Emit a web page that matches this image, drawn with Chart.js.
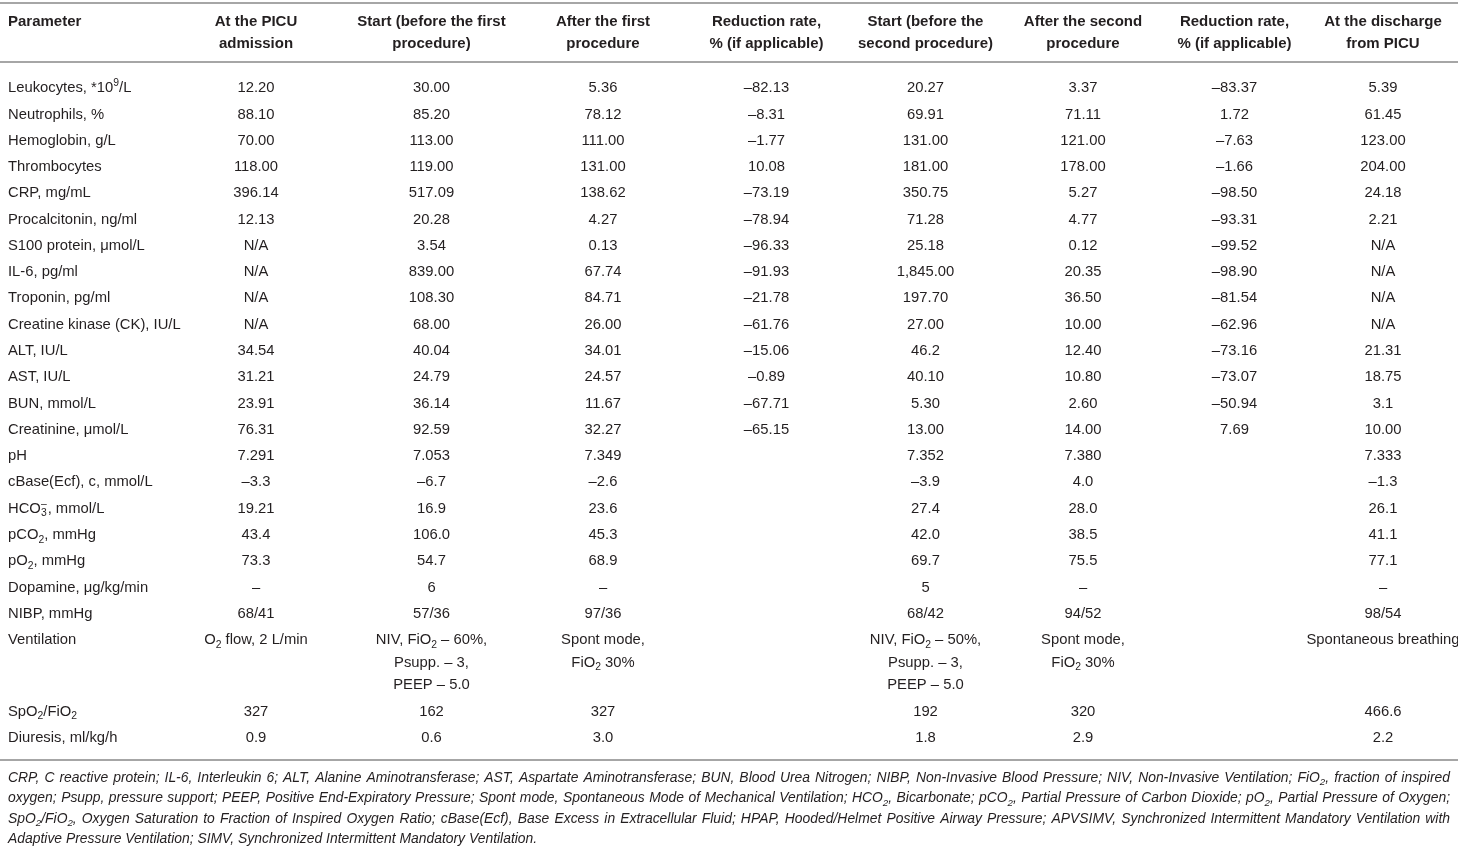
<!DOCTYPE html>
<html>
<head>
<meta charset="utf-8">
<script src="https://cdn.jsdelivr.net/npm/chart.js@4.4.1/dist/chart.umd.min.js"></script>
<style>
  html, body { margin: 0; padding: 0; background: #fff; }
  #wrap { width: 1458px; height: 846px; }
</style>
</head>
<body>
<div id="wrap"><canvas id="table"></canvas></div>
<script>
// Table content. _{x} = subscript, ^{x} = superscript, ~{sub}{sup} = stacked
const headers = ['Parameter', 'At the PICU\nadmission', 'Start (before the first\nprocedure)', 'After the first\nprocedure',
  'Reduction rate,\n% (if applicable)', 'Start (before the\nsecond procedure)', 'After the second\nprocedure',
  'Reduction rate,\n% (if applicable)', 'At the discharge\nfrom PICU'];

const parameters = ['Leukocytes, *10^{9}/L', 'Neutrophils, %', 'Hemoglobin, g/L', 'Thrombocytes', 'CRP, mg/mL',
  'Procalcitonin, ng/ml', 'S100 protein, μmol/L', 'IL-6, pg/ml', 'Troponin, pg/ml', 'Creatine kinase (CK), IU/L',
  'ALT, IU/L', 'AST, IU/L', 'BUN, mmol/L', 'Creatinine, μmol/L', 'pH', 'cBase(Ecf), c, mmol/L', 'HCO~{3}{–}, mmol/L',
  'pCO_{2}, mmHg', 'pO_{2}, mmHg', 'Dopamine, μg/kg/min', 'NIBP, mmHg', 'Ventilation', 'SpO_{2}/FiO_{2}', 'Diuresis, ml/kg/h'];

const admission = ['12.20', '88.10', '70.00', '118.00', '396.14', '12.13', 'N/A', 'N/A', 'N/A', 'N/A', '34.54', '31.21',
  '23.91', '76.31', '7.291', '–3.3', '19.21', '43.4', '73.3', '–', '68/41', 'O_{2} flow, 2 L/min', '327', '0.9'];

const startFirst = ['30.00', '85.20', '113.00', '119.00', '517.09', '20.28', '3.54', '839.00', '108.30', '68.00', '40.04',
  '24.79', '36.14', '92.59', '7.053', '–6.7', '16.9', '106.0', '54.7', '6', '57/36',
  'NIV, FiO_{2} – 60%,\nPsupp. – 3,\nPEEP – 5.0', '162', '0.6'];

const afterFirst = ['5.36', '78.12', '111.00', '131.00', '138.62', '4.27', '0.13', '67.74', '84.71', '26.00', '34.01',
  '24.57', '11.67', '32.27', '7.349', '–2.6', '23.6', '45.3', '68.9', '–', '97/36', 'Spont mode,\nFiO_{2} 30%', '327', '3.0'];

const reductionFirst = ['–82.13', '–8.31', '–1.77', '10.08', '–73.19', '–78.94', '–96.33', '–91.93', '–21.78', '–61.76',
  '–15.06', '–0.89', '–67.71', '–65.15', '', '', '', '', '', '', '', '', '', ''];

const startSecond = ['20.27', '69.91', '131.00', '181.00', '350.75', '71.28', '25.18', '1,845.00', '197.70', '27.00', '46.2',
  '40.10', '5.30', '13.00', '7.352', '–3.9', '27.4', '42.0', '69.7', '5', '68/42',
  'NIV, FiO_{2} – 50%,\nPsupp. – 3,\nPEEP – 5.0', '192', '1.8'];

const afterSecond = ['3.37', '71.11', '121.00', '178.00', '5.27', '4.77', '0.12', '20.35', '36.50', '10.00', '12.40',
  '10.80', '2.60', '14.00', '7.380', '4.0', '28.0', '38.5', '75.5', '–', '94/52', 'Spont mode,\nFiO_{2} 30%', '320', '2.9'];

const reductionSecond = ['–83.37', '1.72', '–7.63', '–1.66', '–98.50', '–93.31', '–99.52', '–98.90', '–81.54', '–62.96',
  '–73.16', '–73.07', '–50.94', '7.69', '', '', '', '', '', '', '', '', '', ''];

const discharge = ['5.39', '61.45', '123.00', '204.00', '24.18', '2.21', 'N/A', 'N/A', 'N/A', 'N/A', '21.31', '18.75',
  '3.1', '10.00', '7.333', '–1.3', '26.1', '41.1', '77.1', '–', '98/54', 'Spontaneous breathing', '466.6', '2.2'];

const footnote = [
  'CRP, C reactive protein; IL-6, Interleukin 6; ALT, Alanine Aminotransferase; AST, Aspartate Aminotransferase; BUN, Blood Urea Nitrogen; NIBP, Non-Invasive Blood Pressure; NIV, Non-Invasive Ventilation; FiO_{2}, fraction of inspired',
  'oxygen; Psupp, pressure support; PEEP, Positive End-Expiratory Pressure; Spont mode, Spontaneous Mode of Mechanical Ventilation; HCO_{2}, Bicarbonate; pCO_{2}, Partial Pressure of Carbon Dioxide; pO_{2}, Partial Pressure of Oxygen;',
  'SpO_{2}/FiO_{2}, Oxygen Saturation to Fraction of Inspired Oxygen Ratio; cBase(Ecf), Base Excess in Extracellular Fluid; HPAP, Hooded/Helmet Positive Airway Pressure; APVSIMV, Synchronized Intermittent Mandatory Ventilation with',
  'Adaptive Pressure Ventilation; SIMV, Synchronized Intermittent Mandatory Ventilation.'
];

const columns = [parameters, admission, startFirst, afterFirst, reductionFirst, startSecond, afterSecond, reductionSecond, discharge];

// layout
const colWidths = [168, 176, 175, 168, 159, 159, 156, 147, 150];
const SUB_LINE = 0.86;   // wrapped line height relative to a row
const PAD = 8;
const INK = '#231f20';
const RULE = '#a6a6a6';
const FAMILY = '"Liberation Sans", Arial, sans-serif';
const BODY = { size: 14.8, weight: 'normal', style: 'normal' };
const HEAD = { size: 15, weight: 'bold', style: 'normal' };
const NOTE = { size: 13.9, weight: 'normal', style: 'italic' };

const colStart = [];
const colCenter = [];
colWidths.reduce((acc, w, i) => { colStart.push(acc); colCenter.push(acc + w / 2); return acc + w; }, 0);
const totalWidth = colWidths.reduce((a, b) => a + b, 0);

// row positions: wrapped rows take extra (shorter) lines
const lineCounts = parameters.map((_, i) => Math.max(...columns.map(col => col[i].split('\n').length)));
const rowPos = [];
lineCounts.reduce((acc, n, i) => { rowPos.push(acc); return acc + 1 + (n - 1) * SUB_LINE; }, 0);

function fontStr(f, scale) {
  return `${f.style} ${f.weight} ${f.size * (scale || 1)}px ${FAMILY}`;
}

function parseRich(str) {
  const segs = [];
  const re = /_\{([^}]*)\}|\^\{([^}]*)\}|~\{([^}]*)\}\{([^}]*)\}/g;
  let last = 0, m;
  while ((m = re.exec(str))) {
    if (m.index > last) segs.push({ mode: 'n', t: str.slice(last, m.index) });
    if (m[1] !== undefined) segs.push({ mode: 'sub', t: m[1] });
    else if (m[2] !== undefined) segs.push({ mode: 'sup', t: m[2] });
    else segs.push({ mode: 'stack', sub: m[3], sup: m[4] });
    last = re.lastIndex;
  }
  if (last < str.length) segs.push({ mode: 'n', t: str.slice(last) });
  return segs;
}

function segWidth(ctx, s, f) {
  if (s.mode === 'n') { ctx.font = fontStr(f); return ctx.measureText(s.t).width; }
  ctx.font = fontStr(f, 0.7);
  if (s.mode === 'stack') return Math.max(ctx.measureText(s.sub).width, ctx.measureText(s.sup).width) + 1;
  return ctx.measureText(s.t).width;
}

function richWidth(ctx, str, f) {
  return parseRich(str).reduce((w, s) => w + segWidth(ctx, s, f), 0);
}

function drawRich(ctx, str, x, y, align, f) {
  const segs = parseRich(str);
  const w = segs.reduce((a, s) => a + segWidth(ctx, s, f), 0);
  let cx = align === 'center' ? x - w / 2 : x;
  ctx.textAlign = 'left';
  ctx.textBaseline = 'middle';
  segs.forEach(s => {
    const sw = segWidth(ctx, s, f);
    if (s.mode === 'n') { ctx.font = fontStr(f); ctx.fillText(s.t, cx, y); }
    else {
      ctx.font = fontStr(f, 0.7);
      if (s.mode === 'sub') ctx.fillText(s.t, cx, y + f.size * 0.32);
      else if (s.mode === 'sup') ctx.fillText(s.t, cx, y - f.size * 0.35);
      else { ctx.fillText(s.sub, cx, y + f.size * 0.32); ctx.fillText(s.sup, cx, y - f.size * 0.3); }
    }
    cx += sw;
  });
}

function drawJustified(ctx, str, x, y, width, f) {
  const words = str.split(' ');
  const wordsW = words.reduce((a, w) => a + richWidth(ctx, w, f), 0);
  const gap = (width - wordsW) / (words.length - 1);
  let cx = x;
  words.forEach(w => { drawRich(ctx, w, cx, y, 'left', f); cx += richWidth(ctx, w, f) + gap; });
}

const tablePlugin = {
  id: 'tableText',
  afterDatasetsDraw(chart) {
    const ctx = chart.ctx;
    const area = chart.chartArea;
    const xs = chart.scales.x, ys = chart.scales.y;
    const rowStep = ys.getPixelForValue(1) - ys.getPixelForValue(0);
    const subStep = rowStep * SUB_LINE;
    ctx.save();
    ctx.fillStyle = INK;

    // rules
    ctx.strokeStyle = RULE;
    ctx.lineWidth = 1.8;
    [area.top - 72, area.top - 13, area.bottom + 9].forEach(yy => {
      ctx.beginPath(); ctx.moveTo(xs.getPixelForValue(0), yy); ctx.lineTo(xs.getPixelForValue(totalWidth), yy); ctx.stroke();
    });

    // header
    headers.forEach((h, c) => {
      h.split('\n').forEach((ln, k) => {
        const px = c === 0 ? xs.getPixelForValue(colStart[0]) + PAD : xs.getPixelForValue(colCenter[c]);
        drawRich(ctx, ln, px, area.top - 53 + k * 22, c === 0 ? 'left' : 'center', HEAD);
      });
    });

    // cells
    chart.data.datasets.forEach((ds, di) => {
      const meta = chart.getDatasetMeta(di);
      meta.data.forEach((pt, i) => {
        const txt = ds.data[i].text;
        if (!txt) return;
        txt.split('\n').forEach((ln, k) => {
          if (di === 0) drawRich(ctx, ln, pt.x + PAD, pt.y + k * subStep, 'left', BODY);
          else drawRich(ctx, ln, pt.x, pt.y + k * subStep, 'center', BODY);
        });
      });
    });

    // footnote
    footnote.forEach((ln, k) => {
      const yy = area.bottom + 27 + k * 20.4;
      const left = xs.getPixelForValue(0) + PAD;
      if (k < footnote.length - 1) drawJustified(ctx, ln, left, yy, xs.getPixelForValue(totalWidth) - 8 - left, NOTE);
      else drawRich(ctx, ln, left, yy, 'left', NOTE);
    });
    ctx.restore();
  }
};

new Chart(document.getElementById('table'), {
  type: 'scatter',
  data: {
    datasets: columns.map((col, c) => ({
      label: headers[c],
      data: col.map((v, i) => ({ x: c === 0 ? colStart[0] : colCenter[c], y: rowPos[i], text: v })),
      pointRadius: 0,
      pointHoverRadius: 0
    }))
  },
  options: {
    responsive: true,
    maintainAspectRatio: false,
    animation: false,
    events: [],
    layout: { padding: { top: 75, bottom: 95, left: 0, right: 0 } },
    scales: {
      x: { type: 'linear', display: false, min: 0, max: totalWidth },
      y: { type: 'linear', display: false, reverse: true, min: -0.5, max: rowPos[rowPos.length - 1] + 0.5 }
    },
    plugins: { legend: { display: false }, tooltip: { enabled: false } }
  },
  plugins: [tablePlugin]
});
</script>
</body>
</html>
